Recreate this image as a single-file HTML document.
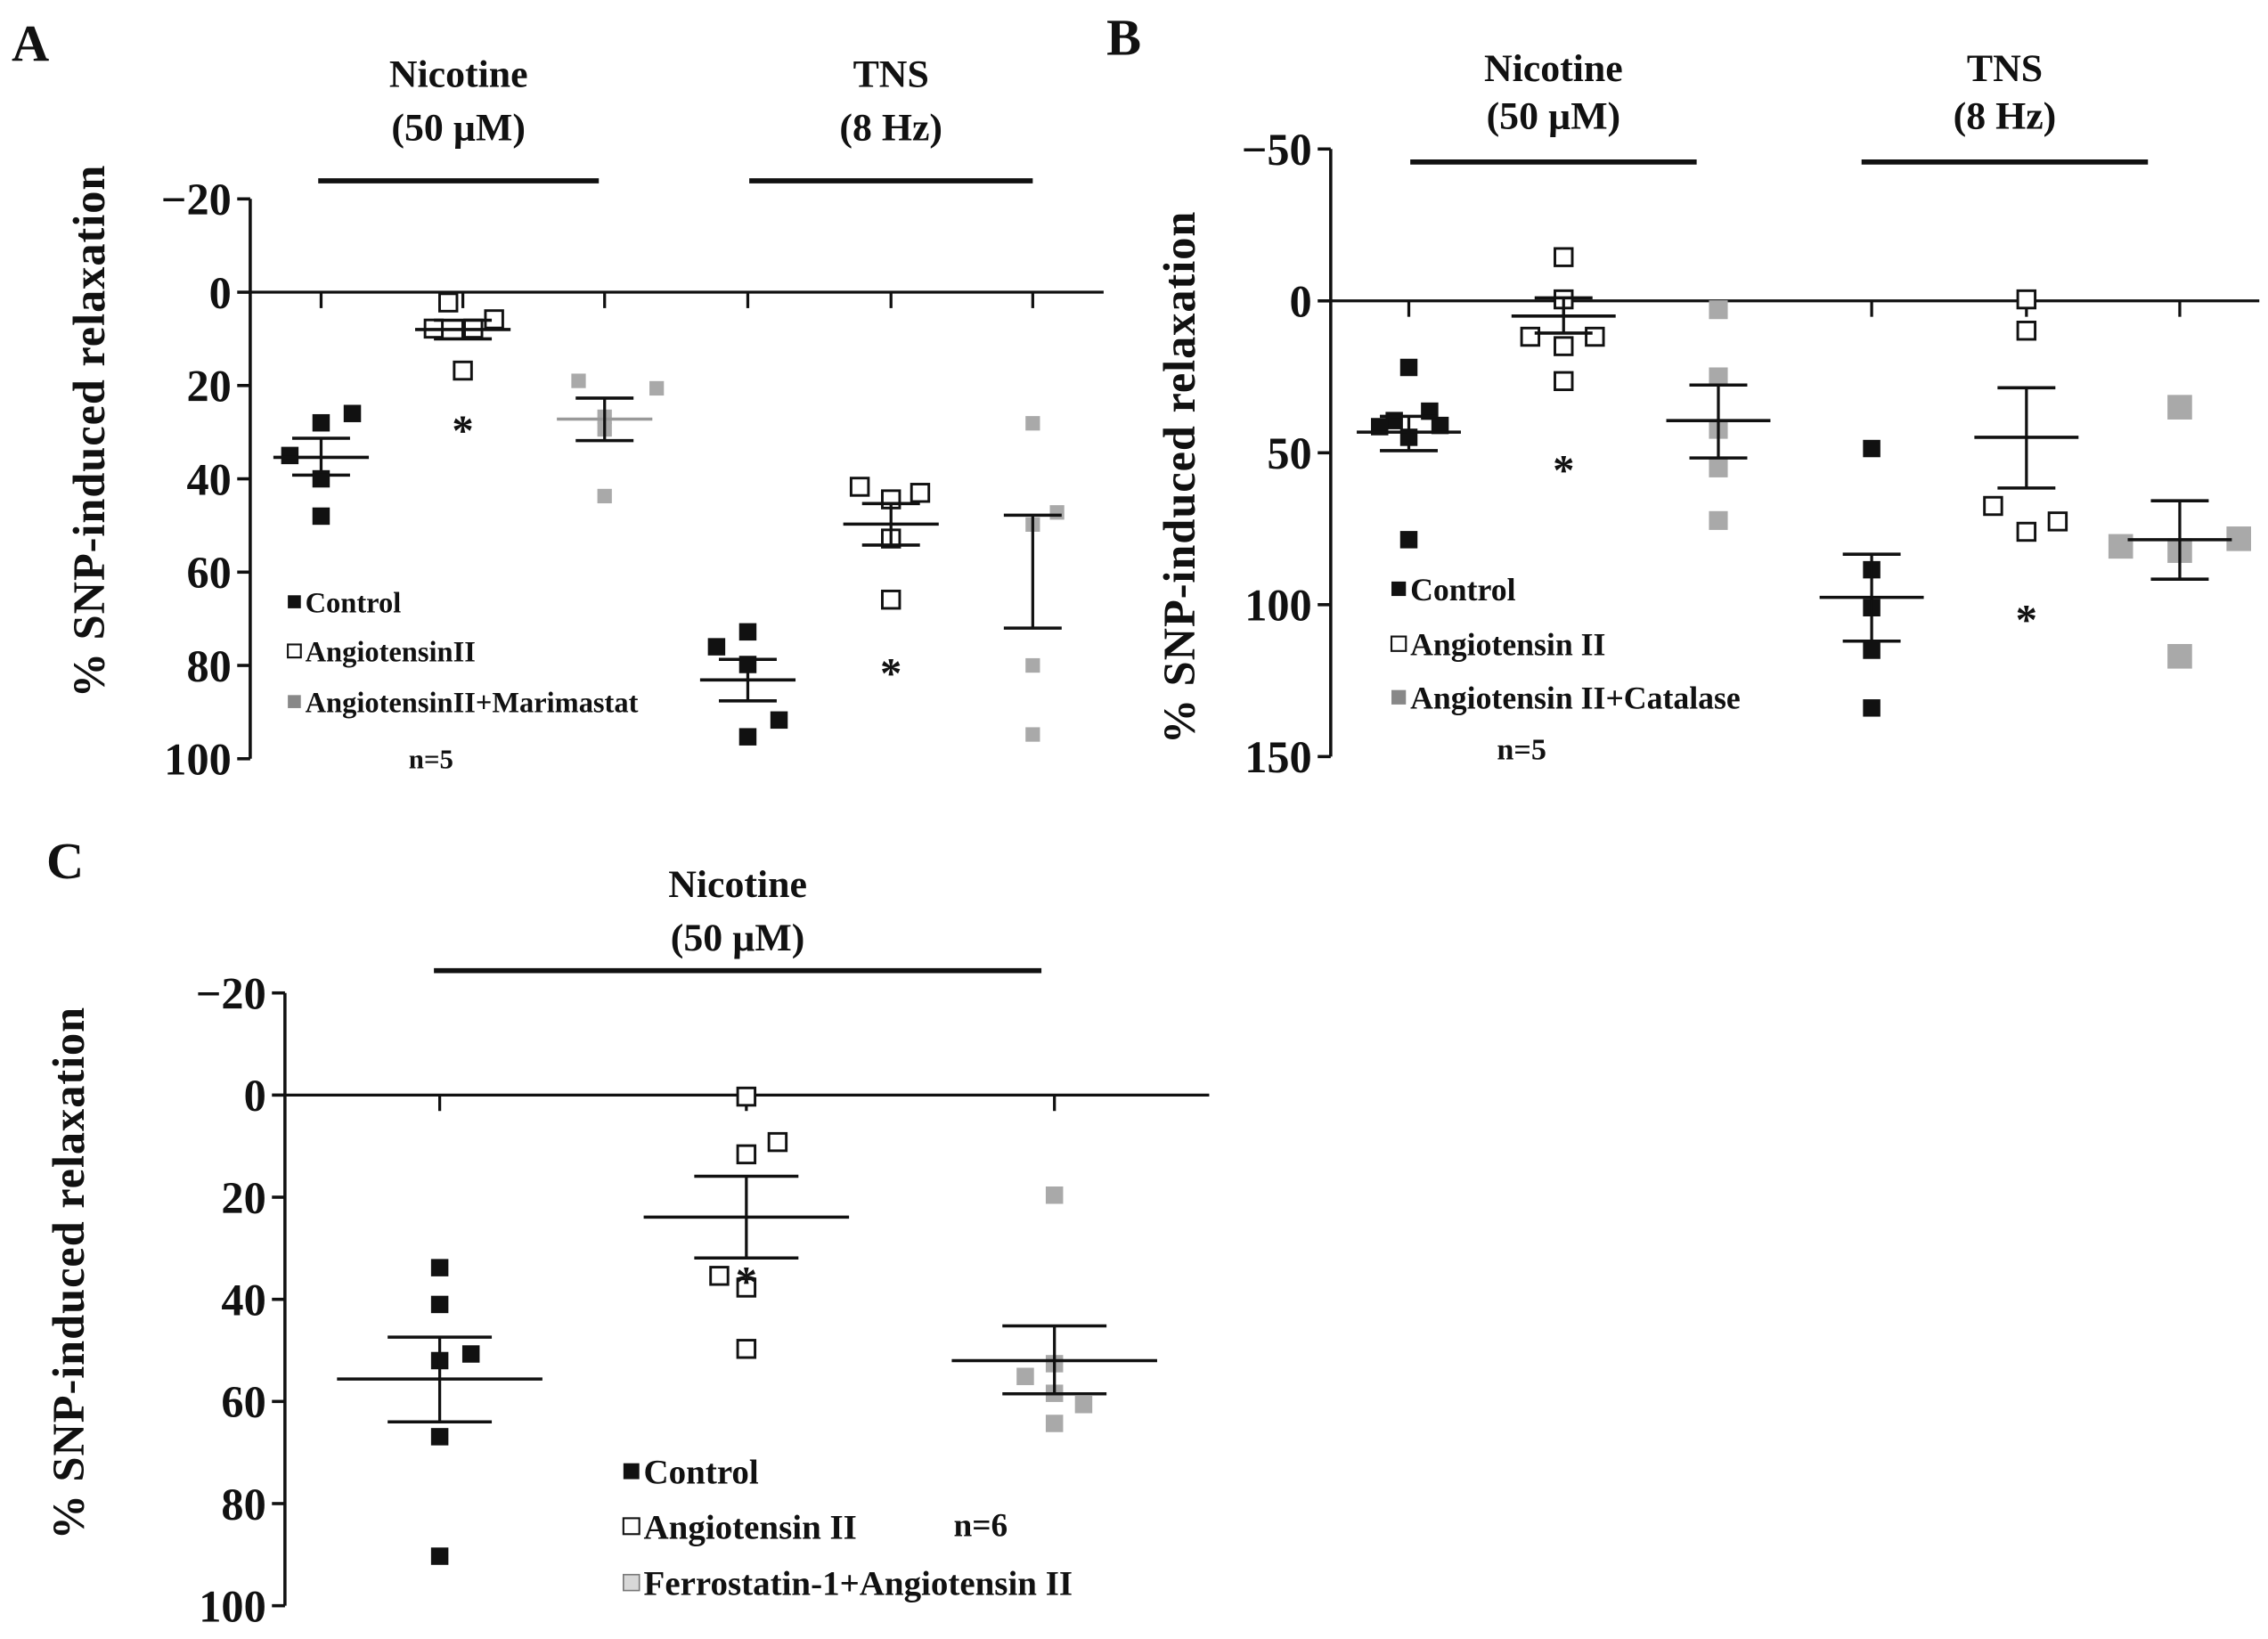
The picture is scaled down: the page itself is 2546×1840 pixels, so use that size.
<!DOCTYPE html>
<html><head><meta charset="utf-8">
<style>
html,body{margin:0;padding:0;background:#fff;}
svg{display:block;}
text{font-family:"Liberation Serif",serif;font-weight:bold;fill:#111;}
</style></head>
<body>
<svg id="fig" width="2546" height="1840" viewBox="0 0 1568 1133" preserveAspectRatio="none" xmlns="http://www.w3.org/2000/svg"></svg>
<script>
// ---------- Panel A data ----------
const aCategories = ["Nic Control","Nic AngII","Nic AngII+Marimastat","TNS Control","TNS AngII","TNS AngII+Marimastat"];
const aPoints = [[28,26,35,40,48],[2.2,7.8,7.8,5.8,16.8],[19,20.6,26.7,29.4,43.7],[72.8,76,79.8,91.7,95.3],[41.7,44.4,43,52.8,65.9],[28.1,49.8,47.2,80,94.8]];
const aMeans = [35.4,8,27.2,83.1,49.7,60];
const aErrLo = [31.3,6,22.7,78.7,45.3,47.8];
const aErrHi = [39.2,10,31.8,87.6,54.2,72];
const aTicks = [-20,0,20,40,60,80,100];
// ---------- Panel B data ----------
const bCategories = ["Nic Control","Nic AngII","Nic AngII+Catalase","TNS Control","TNS AngII","TNS AngII+Catalase"];
const bPoints = [[21.9,36.3,39.4,41.4,41,44.9,78.6],[-14.4,-0.5,11.8,11.8,14.9,26.4],[2.9,25,42.3,55,72.3],[48.6,88.5,101,115,134],[-0.5,9.8,67.5,76,72.6],[35,80.8,82.2,78.3,117]];
const bMeans = [43.2,5,39.4,97.6,44.9,78.6];
const bErrLo = [38,-1,27.7,83.4,28.6,65.8];
const bErrHi = [49.3,10.6,51.7,112,61.6,91.6];
const bTicks = [-50,0,50,100,150];
// ---------- Panel C data ----------
const cCategories = ["Control","Angiotensin II","Ferrostatin-1+Angiotensin II"];
const cPoints = [[33.8,41,52,50.7,66.9,90.3],[0.3,11.6,9.2,35.4,37.7,49.7],[19.6,52.6,55.1,58.4,60.6,64.3]];
const cMeans = [55.6,23.9,52];
const cErrLo = [47.4,15.9,45.2];
const cErrHi = [64,31.9,58.5];
const cTicks = [-20,0,20,40,60,80,100];
// horizontal jitter (style only, in marker widths)
const aJit = [[0,1.5,-1.5,0,0],[-0.7,-1.4,0.5,1.5,0],[-1.5,3,0,0,0],[0,-1.5,0,1.5,0],[-1.5,0,1.4,0,0],[0,0,1.4,0,0]];
const bJit = [[0,1,-0.7,-1.4,1.5,0,0],[0,0,-1.6,1.5,0,0],[0,0,0,0,0],[0,0,0,0,0],[0,0,-1.6,0,1.5],[0,-2,0,2,0]];
const cJit = [[0,0,0,1.5,0,0],[0,0,1.5,-1.3,0,0],[0,0,-1.4,0,1.4,0]];

const NS="http://www.w3.org/2000/svg";
const svg=document.getElementById('fig');
function el(tag,attrs,parent){const e=document.createElementNS(NS,tag);for(const k in attrs)e.setAttribute(k,attrs[k]);(parent||svg).appendChild(e);return e;}
function txt(s,x,y,size,anchor,parent){const t=el('text',{x:x,y:y,'font-size':size,'text-anchor':anchor||'middle'},parent);t.textContent=s;return t;}

function panel(cfg){
  const g=el('g',{});
  
  
  const y=v=>cfg.y0+v*cfg.k;
  const x=i=>cfg.xs[i];
  const L=txt(cfg.letter,cfg.letterX,cfg.letterY,36,'start',g);
  
  
  const ax=el('line',{x1:cfg.ax,y1:y(cfg.ticks[0]),x2:cfg.ax,y2:y(cfg.ticks[cfg.ticks.length-1]),stroke:'#111','stroke-width':2.2},g);
  
  
  cfg.ticks.forEach(t=>{
    el('line',{x1:cfg.ax-9,y1:y(t),x2:cfg.ax,y2:y(t),stroke:'#111','stroke-width':2.2},g);
    const lb=txt(t<0?'\u2212'+(-t):String(t),cfg.ax-13,y(t)+11,31,'end',g);
    
    
  });
  const z=el('line',{x1:cfg.ax,y1:y(0),x2:cfg.zEnd,y2:y(0),stroke:'#111','stroke-width':2},g);
  
  
  cfg.xs.forEach(xx=>el('line',{x1:xx,y1:y(0),x2:xx,y2:y(0)+11,stroke:'#111','stroke-width':2},g));
  const yt=txt('% SNP-induced relaxation',0,0,31,'middle',g);
  yt.setAttribute('transform','translate('+cfg.titleX+','+cfg.titleY+') rotate(-90)');
  yt.setAttribute('letter-spacing','0.6');
  
  
  cfg.groups.forEach(gr=>{
    const b=el('line',{x1:gr.x1,y1:gr.y,x2:gr.x2,y2:gr.y,stroke:'#111','stroke-width':3.5},g);
    
    
    const t1=txt(gr.l1,(gr.x1+gr.x2)/2,gr.ty1,27,'middle',g);
    
    
    const t2=txt(gr.l2,(gr.x1+gr.x2)/2,gr.ty2,27,'middle',g);
    
    
  });
  cfg.points.forEach((arr,i)=>{
    const type=cfg.types[i];
    const s=cfg.ms[i];
    arr.forEach((v,j)=>{
      const cx=x(i)+cfg.jit[i][j]*s*1.2;
      const r=el('rect',{x:cx-s/2,y:y(v)-s/2,width:s,height:s},g);
      if(type==='filled'){r.setAttribute('fill','#111');}
      else if(type==='open'){r.setAttribute('fill','#fff');r.setAttribute('stroke','#111');r.setAttribute('stroke-width',1.8);}
      else {r.setAttribute('fill','#a9a9a9');}
      
      
    });
  });
  cfg.means.forEach((m,i)=>{
    const col=cfg.meanCol[i];
    const ml=el('line',{x1:x(i)-cfg.mw,y1:y(m),x2:x(i)+cfg.mw,y2:y(m),stroke:col,'stroke-width':2.2},g);
    
    
    const el1=el('line',{x1:x(i),y1:y(cfg.lo[i]),x2:x(i),y2:y(cfg.hi[i]),stroke:'#111','stroke-width':2},g);
    
    
    [cfg.lo[i],cfg.hi[i]].forEach(v=>el('line',{x1:x(i)-cfg.cw,y1:y(v),x2:x(i)+cfg.cw,y2:y(v),stroke:'#111','stroke-width':2.2},g));
  });
  cfg.stars.forEach(s=>{const t=txt('*',x(s.i),y(s.v)+12,30,'middle',g);});
  cfg.legend.forEach((l,i)=>{
    const yy=cfg.legY[i];
    const r=el('rect',{x:cfg.legX,y:yy-cfg.legS/2,width:cfg.legS,height:cfg.legS},g);
    if(l.t==='filled')r.setAttribute('fill','#111');
    else if(l.t==='open'){r.setAttribute('fill','#fff');r.setAttribute('stroke','#111');r.setAttribute('stroke-width',1.3);}
    else {r.setAttribute('fill',l.c||'#888');if(l.c)r.setAttribute('stroke','#777');}
    
    
    const t=txt(l.s,cfg.legX+cfg.legS+3,yy+cfg.legF*0.36,cfg.legF,'start',g);
    
    
  });
  const n=txt(cfg.n.s,cfg.n.x,cfg.n.y,cfg.legF-1,'middle',g);
  
  
}

panel({name:'panel-a',letter:'A',letterX:8,letterY:42,ax:173,y0:202,k:3.225,zEnd:763,
  xs:[222,320,418,517,616,714],ticks:aTicks,titleX:72,titleY:298,
  groups:[{x1:220,x2:414,y:125,l1:'Nicotine',l2:'(50 \u00b5M)',ty1:60,ty2:97},{x1:518,x2:714,y:125,l1:'TNS',l2:'(8 Hz)',ty1:60,ty2:97}],
  points:aPoints,types:['filled','open','gray','filled','open','gray'],ms:[12,12,10,12,12,10],jit:aJit,
  means:aMeans,lo:aErrLo,hi:aErrHi,meanCol:['#111','#111','#999','#111','#111','#fff'],mw:33,cw:20,
  stars:[{i:1,v:29},{i:4,v:81}],
  legend:[{s:'Control',t:'filled'},{s:'AngiotensinII',t:'open'},{s:'AngiotensinII+Marimastat',t:'gray'}],
  legX:199,legY:[416,450,485],legS:9,legF:20,n:{s:'n=5',x:298,y:531}});

panel({name:'panel-b',letter:'B',letterX:765,letterY:38,ax:920,y0:208,k:2.1,zEnd:1562,
  xs:[974,1081,1188,1294,1401,1507],ticks:bTicks,titleX:826,titleY:330,
  groups:[{x1:975,x2:1173,y:112,l1:'Nicotine',l2:'(50 \u00b5M)',ty1:56,ty2:89},{x1:1287,x2:1485,y:112,l1:'TNS',l2:'(8 Hz)',ty1:56,ty2:89}],
  points:bPoints,types:['filled','open','gray','filled','open','gray'],ms:[12,12,13,12,12,17],jit:bJit,
  means:bMeans,lo:bErrLo,hi:bErrHi,meanCol:['#111','#111','#111','#111','#111','#111'],mw:36,cw:20,
  stars:[{i:1,v:54.8},{i:4,v:104}],
  legend:[{s:'Control',t:'filled'},{s:'Angiotensin II',t:'open'},{s:'Angiotensin II+Catalase',t:'gray'}],
  legX:962,legY:[407,445,482],legS:10,legF:22,n:{s:'n=5',x:1052,y:525}});

panel({name:'panel-c',letter:'C',letterX:32,letterY:607,ax:197,y0:757,k:3.53,zEnd:836,
  xs:[304,516,729],ticks:cTicks,titleX:58,titleY:880,
  groups:[{x1:300,x2:720,y:671,l1:'Nicotine',l2:'(50 \u00b5M)',ty1:620,ty2:657}],
  points:cPoints,types:['filled','open','gray'],ms:[12,12,12],jit:cJit,
  means:cMeans,lo:cErrLo,hi:cErrHi,meanCol:['#111','#111','#111'],mw:71,cw:36,
  stars:[{i:1,v:36}],
  legend:[{s:'Control',t:'filled'},{s:'Angiotensin II',t:'open'},{s:'Ferrostatin-1+Angiotensin II',t:'gray',c:'#d8d8d8'}],
  legX:431,legY:[1017,1055,1094],legS:11,legF:24,n:{s:'n=6',x:678,y:1062}});
</script>
</body></html>
